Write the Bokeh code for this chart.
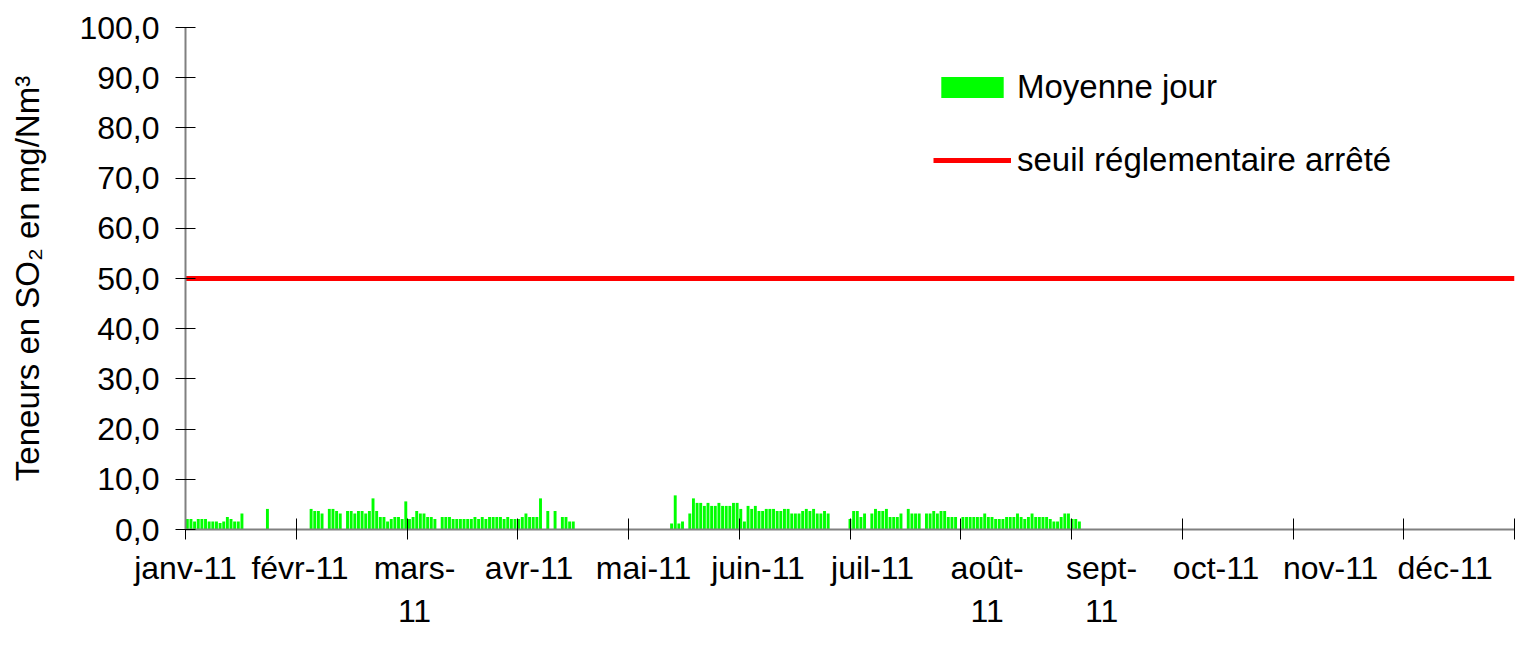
from bokeh.plotting import figure
from bokeh.models import FixedTicker, Legend, LegendItem, Range1d
from bokeh.embed import file_html
from bokeh.resources import INLINE

# Daily averages (mg/Nm3), None = no measurement
janv = [2.1, 2.1, 1.6, 2.1, 2.1, 2.1, 1.6, 1.6, 1.6, 1.3, 1.6, 2.5, 2.1, 1.6, 1.6, 3.2,
        None, None, None, None, None, None, 4.1, None, None, None, None, None, None, None, None]
fevr = [None, None, None, 4.1, 3.7, 3.7, 3.2, None, 4.1, 4.1, 3.7, 3.2, None, 3.7,
        3.7, 3.2, 3.7, 3.7, 3.2, 3.7, 6.2, 3.7, 2.5, 2.5, 1.6, 2.1, 2.5, 2.5]
mars = [2.1, 5.6, 2.1, 2.5, 3.7, 3.2, 3.2, 2.5, 2.5, 2.1, None, 2.5, 2.5, 2.5, 2.1, 2.1,
        2.1, 2.1, 2.1, 2.1, 2.5, 2.1, 2.5, 2.1, 2.5, 2.5, 2.5, 2.5, 2.1, 2.5, 2.1]
avr = [2.1, 2.1, 2.5, 3.2, 2.5, 2.5, 2.5, 6.2, None, 3.7, None, 3.7, None, 2.5, 2.5, 1.6,
       1.6, None, None, None, None, None, None, None, None, None, None, None, None, None]
mai = [None, None, None, None, None, None, None, None, None, None, None, None, None,
       1.2, 6.8, 1.2, 1.6, None, 3.2, 6.2, 5.3, 5.3, 4.7, 5.3, 4.7, 4.7, 5.3, 4.7, 4.7, 4.7, 5.3]
juin = [5.3, 4.1, 1.6, 4.7, 4.1, 4.7, 3.7, 3.7, 4.1, 4.1, 4.1, 3.7, 3.7, 4.1, 4.1, 3.2,
        3.2, 3.2, 3.7, 4.1, 3.7, 4.1, 3.2, 3.2, 3.7, 3.2, None, None, None, None]
juil = [None, 2.1, 3.7, 3.7, 2.5, 3.2, None, 3.2, 4.1, 3.7, 3.7, 4.1, 2.5, 2.5, 2.5, 3.2,
        None, 4.1, 3.2, 3.2, 3.2, None, 3.2, 3.2, 3.7, 3.2, 3.7, 3.7, 2.5, 2.5, 2.5]
aout = [None, 2.5, 2.5, 2.5, 2.5, 2.5, 2.5, 3.2, 2.5, 2.5, 2.1, 2.1, 2.1, 2.5, 2.5, 2.5,
        3.2, 2.5, 2.1, 2.5, 3.2, 2.5, 2.5, 2.5, 2.5, 2.1, 1.6, 1.6, 2.5, 3.2, 3.2]
sept = [2.1, 2.1, 1.6] + [None] * 27
octo = [None] * 31
nov = [None] * 30
dec = [None] * 31

seuil = 50.0
month_labels = ["janv-11", "févr-11", "mars-\n11", "avr-11", "mai-11", "juin-11",
                "juil-11", "août-\n11", "sept-\n11", "oct-11", "nov-11", "déc-11"]
y_ticks = [0, 10, 20, 30, 40, 50, 60, 70, 80, 90, 100]

months = [janv, fevr, mars, avr, mai, juin, juil, aout, sept, octo, nov, dec]
daily = [v for m in months for v in m]
n_days = len(daily)
xs = [i + 0.5 for i, v in enumerate(daily) if v is not None]
tops = [v for v in daily if v is not None]

FONT = "Liberation Sans"

p = figure(width=1515, height=631, output_backend="svg", toolbar_location=None,
           x_range=Range1d(0, n_days), y_range=Range1d(0, 100),
           min_border_left=185, min_border_right=1, min_border_top=27, min_border_bottom=98)
p.outline_line_color = None
p.xgrid.visible = False
p.ygrid.visible = False
p.background_fill_color = "white"
p.border_fill_color = "white"

bars = p.vbar(x=xs, top=tops, width=0.8, bottom=0, fill_color="#00FF00", line_color=None)
thr = p.line(x=[0, n_days], y=[seuil, seuil], line_color="#FF0000", line_width=5)

# X axis
step_lab = 31.45
label_pos = [i * step_lab for i in range(12)]
bounds = [i * n_days / 12 for i in range(13)]
xa = p.xaxis[0]
xa.ticker = FixedTicker(ticks=label_pos, minor_ticks=bounds)
xa.major_label_overrides = {pos: lab for pos, lab in zip(label_pos, month_labels)}
xa.major_tick_line_color = None
xa.major_tick_in = 0
xa.major_tick_out = 6
xa.minor_tick_line_color = "black"
xa.minor_tick_in = 11
xa.minor_tick_out = 10
xa.axis_line_color = "#808080"
xa.axis_line_width = 2
xa.major_label_text_font = FONT
xa.major_label_text_font_size = "32px"
xa.major_label_text_color = "black"
xa.major_label_standoff = 10

# Y axis
ya = p.yaxis[0]
ya.ticker = FixedTicker(ticks=y_ticks, minor_ticks=[])
ya.major_label_overrides = {t: f"{t:.1f}".replace(".", ",") for t in y_ticks}
ya.major_tick_in = 10
ya.major_tick_out = 10
ya.major_tick_line_color = "black"
ya.axis_line_color = "#808080"
ya.axis_line_width = 2
ya.major_label_text_font = FONT
ya.major_label_text_font_size = "32px"
ya.major_label_text_color = "black"
ya.major_label_standoff = 16
ya.axis_label = "Teneurs en SO₂ en mg/Nm³"
ya.axis_label_text_font = FONT
ya.axis_label_text_font_size = "33px"
ya.axis_label_text_font_style = "normal"
ya.axis_label_text_color = "black"
ya.axis_label_standoff = 30

legend = Legend(items=[LegendItem(label="Moyenne jour", renderers=[bars]),
                       LegendItem(label="seuil réglementaire arrêté", renderers=[thr])],
                location=(748, 350), orientation="vertical",
                glyph_width=78, glyph_height=26, label_standoff=6, spacing=35,
                padding=0, margin=0, border_line_color=None, background_fill_alpha=0,
                label_text_font=FONT, label_text_font_size="33px", label_text_color="black")
p.add_layout(legend, "center")

open("out.html", "w").write(file_html(p, INLINE))
